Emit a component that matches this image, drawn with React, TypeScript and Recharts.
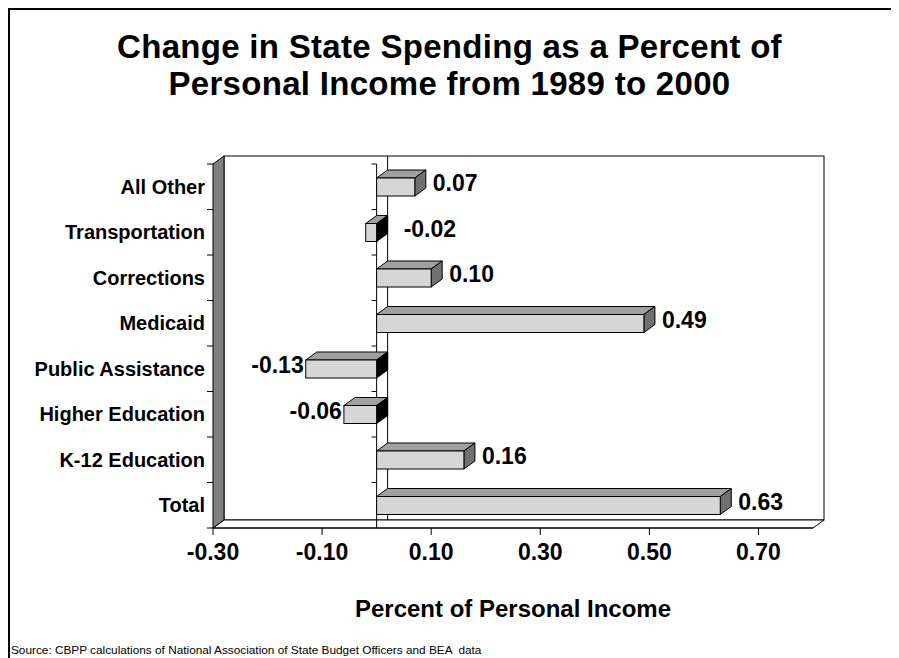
import React from "react";
import {
  BarChart,
  Bar,
  XAxis,
  YAxis,
  ReferenceArea,
  ReferenceLine,
} from "recharts";

const categories = [
  "All Other",
  "Transportation",
  "Corrections",
  "Medicaid",
  "Public Assistance",
  "Higher Education",
  "K-12 Education",
  "Total",
];
const changes = [0.07, -0.02, 0.1, 0.49, -0.13, -0.06, 0.16, 0.63];
const xTicks = [-0.3, -0.1, 0.1, 0.3, 0.5, 0.7];

const data = categories.map((name, i) => ({ name, value: changes[i] }));

const FONT = "'Liberation Sans', Arial, sans-serif";
// 3D depth offset
const DX = 11;
const DY = -8;

// left wall, back wall and floor, drawn from the plot area
const Walls = (props: any) => {
  const { x, y, width, height } = props;
  const r = x + width;
  const b = y + height;
  const n = categories.length;
  const ticks = [];
  for (let i = 0; i <= n; i++) {
    const ty = y + (i * height) / n;
    ticks.push(<line key={i} x1={x - 6} y1={ty} x2={x} y2={ty} stroke="#000" />);
  }
  return (
    <g>
      <rect x={x + DX} y={y + DY} width={width} height={height} fill="#fff" stroke="#000" />
      <polygon
        points={`${x},${b} ${x + DX},${b + DY} ${r + DX},${b + DY} ${r},${b}`}
        fill="#fff"
        stroke="#000"
      />
      <polygon
        points={`${x},${y} ${x + DX},${y + DY} ${x + DX},${b + DY} ${x},${b}`}
        fill="#808080"
        stroke="#000"
      />
      {ticks}
    </g>
  );
};

// zero line: front line with category ticks, plus the line on the back wall
const ZeroLine = (props: any) => {
  const { x1, y1, x2, y2 } = props;
  const top = Math.min(y1, y2);
  const bottom = Math.max(y1, y2);
  const n = categories.length;
  const ticks = [];
  for (let i = 0; i < n; i++) {
    const ty = top + (i * (bottom - top)) / n;
    ticks.push(<line key={i} x1={x1 - 5} y1={ty} x2={x1} y2={ty} stroke="#000" />);
  }
  return (
    <g>
      <line x1={x1 + DX} y1={top + DY} x2={x1 + DX} y2={bottom + DY} stroke="#000" />
      <line x1={x1} y1={top} x2={x2} y2={bottom} stroke="#000" />
      {ticks}
    </g>
  );
};

const Bar3D = (props: any) => {
  const { x, y, width, height, payload } = props;
  const v = payload.value;
  const left = Math.min(x, x + width);
  const w = Math.abs(width);
  const right = left + w;
  const top = y;
  const bottom = y + height;
  const neg = v < 0;

  let lx = right + DX + 7;
  let anchor: "start" | "end" = "start";
  if (neg && w >= 20) {
    lx = left - 2;
    anchor = "end";
  } else if (neg) {
    lx = right + DX + 16;
  }
  const ly = (top + bottom) / 2 + 4;

  return (
    <g>
      <polygon
        points={`${left},${top} ${left + DX},${top + DY} ${right + DX},${top + DY} ${right},${top}`}
        fill="#a0a0a0"
        stroke="#000"
      />
      <polygon
        points={`${right},${top} ${right + DX},${top + DY} ${right + DX},${bottom + DY} ${right},${bottom}`}
        fill={neg ? "#000" : "#707070"}
        stroke="#000"
      />
      <rect x={left} y={top} width={w} height={height} fill="#d6d6d6" stroke="#000" />
      <text
        x={lx}
        y={ly}
        textAnchor={anchor}
        fontFamily={FONT}
        fontWeight="bold"
        fontSize={23}
        fill="#000"
      >
        {v.toFixed(2)}
      </text>
    </g>
  );
};

export default function App() {
  return (
    <div
      style={{
        position: "relative",
        width: 891,
        height: 650,
        overflow: "hidden",
        fontFamily: FONT,
      }}
    >
      <div
        style={{
          position: "absolute",
          left: 0,
          top: 0,
          width: 891,
          height: 650,
          borderTop: "2px solid #000",
          borderLeft: "2px solid #000",
          boxSizing: "border-box",
        }}
      />
      <div
        style={{
          position: "absolute",
          left: -8,
          top: 20,
          width: 899,
          textAlign: "center",
          fontWeight: "bold",
          fontSize: 33,
          lineHeight: "37px",
          letterSpacing: 0.3,
        }}
      >
        Change in State Spending as a Percent of
        <br />
        Personal Income from 1989 to 2000
      </div>
      <BarChart
        layout="vertical"
        width={891}
        height={650}
        data={data}
        margin={{ top: 156, right: 86, bottom: 0, left: 10 }}
        style={{ position: "absolute", left: 0, top: 0 }}
      >
        <ReferenceArea x1={-0.3} x2={0.8} shape={<Walls />} zIndex={-200} ifOverflow="visible" />
        <ReferenceLine x={0} shape={<ZeroLine />} zIndex={-150} ifOverflow="visible" />
        <XAxis
          type="number"
          domain={[-0.3, 0.8]}
          ticks={xTicks}
          allowDataOverflow
          height={130}
          tickSize={7}
          tickMargin={9}
          tickFormatter={(v: number) => v.toFixed(2)}
          axisLine={{ stroke: "#000" }}
          tickLine={{ stroke: "#000" }}
          tick={{ fill: "#000", fontSize: 23, fontWeight: "bold", fontFamily: FONT }}
          label={{
            value: "Percent of Personal Income",
            position: "insideBottom",
            offset: 41,
            fill: "#000",
            fontSize: 24,
            fontWeight: "bold",
            fontFamily: FONT,
          }}
        />
        <YAxis
          type="category"
          dataKey="name"
          width={195}
          axisLine={false}
          tickLine={false}
          tickSize={0}
          tickMargin={8}
          interval={0}
          tick={{ fill: "#000", fontSize: 20, fontWeight: "bold", fontFamily: FONT }}
        />
        <Bar dataKey="value" barSize={18} shape={<Bar3D />} isAnimationActive={false} />
      </BarChart>
      <div
        style={{
          position: "absolute",
          left: 3,
          top: 635,
          fontSize: 11.8,
          whiteSpace: "pre",
        }}
      >
        Source: CBPP calculations of National Association of State Budget Officers and BEA  data
      </div>
    </div>
  );
}
